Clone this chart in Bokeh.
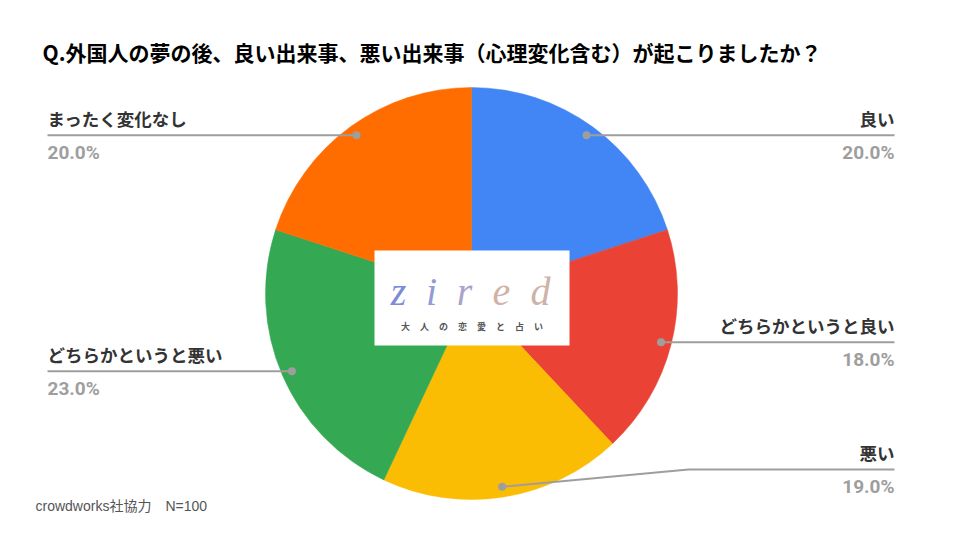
import math
from bokeh.plotting import figure
from bokeh.models import Range1d
from bokeh.core.properties import value
from bokeh.embed import file_html
from bokeh.resources import INLINE

# ---------------- data ----------------
title_text = "Q.外国人の夢の後、良い出来事、悪い出来事（心理変化含む）が起こりましたか？"
categories = ["良い", "どちらかというと良い", "悪い", "どちらかというと悪い", "まったく変化なし"]
values = [20.0, 18.0, 19.0, 23.0, 20.0]
colors = ["#4285F4", "#EA4335", "#FBBC04", "#34A853", "#FF6D01"]
footer_text = "crowdworks社協力　N=100"
logo_letters = ["z", "i", "r", "e", "d"]
logo_colors = ["#7d8cd6", "#939bd5", "#aba3cd", "#d2b2a7", "#cdb3aa"]
logo_sub = list("大人の恋愛と占い")

# ---------------- layout (page pixel coordinates) ----------------
W, H = 944, 524
CX, CY, R = 471, 293, 206
label_side = ["right", "right", "right", "left", "left"]
label_line_py = [None, None, 469, None, None]
label_elbow_px = [None, None, 688, None, None]
RIGHT_EDGE, LEFT_EDGE = 894, 47


def Y(py):
    return H - py


p = figure(width=W, height=H, x_range=Range1d(0, W), y_range=Range1d(0, H),
           output_backend="svg", toolbar_location=None,
           x_axis_location=None, y_axis_location=None, min_border=0)
p.grid.visible = False
p.outline_line_color = None
p.background_fill_color = "white"
p.border_fill_color = "white"

# ---------------- pie ----------------
total = sum(values)
cum = 0.0
starts, ends, dots_x, dots_y = [], [], [], []
for v in values:
    a0 = math.pi / 2 - 2 * math.pi * cum / total
    a1 = math.pi / 2 - 2 * math.pi * (cum + v) / total
    starts.append(a1)
    ends.append(a0)
    mid = math.pi / 2 - 2 * math.pi * (cum + v / 2) / total
    dots_x.append(CX + 0.95 * R * math.cos(mid))
    dots_y.append(CY - 0.95 * R * math.sin(mid))
    cum += v

p.wedge(x=CX, y=Y(CY), radius=R, start_angle=starts, end_angle=ends,
        fill_color=colors, line_color=colors, line_width=0.5)

# ---------------- leader lines & labels ----------------
xs, ys = [], []
lab_x, lab_y, lab_align, pct_y, pct_txt = [], [], [], [], []
for i, cat in enumerate(categories):
    dx, dy = dots_x[i], dots_y[i]
    ly = label_line_py[i] if label_line_py[i] is not None else dy
    ex = label_elbow_px[i] if label_elbow_px[i] is not None else dx
    end = RIGHT_EDGE if label_side[i] == "right" else LEFT_EDGE
    xs.append([dx, ex, end])
    ys.append([Y(dy), Y(ly), Y(ly)])
    lab_x.append(end)
    lab_y.append(Y(ly - 17))
    pct_y.append(Y(ly + 17))
    lab_align.append("right" if label_side[i] == "right" else "left")
    pct_txt.append(f"{values[i] / total * 100:.1f}%")

p.multi_line(xs=xs, ys=ys, line_color="#9e9e9e", line_width=2)
p.scatter(x=dots_x, y=[Y(d) for d in dots_y], size=8, fill_color="#9e9e9e", line_color=None)

p.text(x=lab_x, y=lab_y, text=categories, text_align=lab_align, text_baseline="middle",
       text_font=value("Noto Sans CJK JP"), text_font_style="bold",
       text_font_size="17.5px", text_color="#333333")
p.text(x=lab_x, y=pct_y, text=pct_txt, text_align=lab_align, text_baseline="middle",
       text_font=value("Roboto"), text_font_style="bold",
       text_font_size="19px", text_color="#9e9e9e")

# ---------------- title & footer ----------------
p.text(x=[42], y=[Y(51)], text=[title_text], text_align="left", text_baseline="middle",
       text_font=value("Noto Sans CJK JP"), text_font_style="bold",
       text_font_size="21px", text_color="#000000")
p.text(x=[35], y=[Y(505)], text=[footer_text], text_align="left", text_baseline="middle",
       text_font=value("Liberation Sans, Noto Sans CJK JP"),
       text_font_size="14px", text_color="#555555")

# ---------------- logo ----------------
p.rect(x=471.5, y=Y(297.5), width=195, height=95, fill_color="white", line_color=None)
p.text(x=[398, 431, 464, 501, 540], y=[Y(291)] * 5, text=logo_letters,
       text_align="center", text_baseline="alphabetic",
       text_font=value("Liberation Serif"), text_font_style="italic",
       text_font_size="40px", text_color=logo_colors)
sub_x = [405 + 19 * k for k in range(len(logo_sub))]
p.text(x=sub_x, y=[Y(326)] * len(logo_sub), text=logo_sub,
       text_align="center", text_baseline="middle",
       text_font=value("Noto Sans CJK JP"), text_font_style="bold",
       text_font_size="9px", text_color="#555555")

open("out.html", "w").write(file_html(p, INLINE))
